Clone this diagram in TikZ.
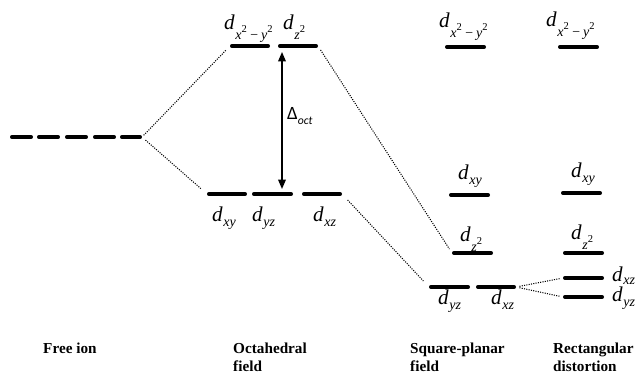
\documentclass[tikz,border=0pt]{standalone}
\usepackage{fontspec}
\setmainfont{Liberation Serif}
\newfontfamily\calibri{Carlito}
\usetikzlibrary{arrows.meta}

% orbital label: italic d with a lowered subscript
\newcommand{\orb}[2][3.5pt]{\textit{d}\kern.03em\raisebox{-#1}{\fontsize{12}{12}\selectfont\itshape #2}}
\newcommand{\sqd}{\raisebox{6pt}{\fontsize{9}{9}\selectfont\upshape 2}}

\begin{document}
\begin{tikzpicture}
  [x=0.03cm,y=-0.03cm,
   level/.style={line width=3.2pt,line cap=round,shorten <=1.6pt,shorten >=1.6pt},
   link/.style={line width=0.9pt,dash pattern=on 0.9pt off 1.1pt},
   split/.style={line width=1.2pt,{Triangle[length=8pt,width=6.5pt]}-{Triangle[length=8pt,width=6.5pt]}},
   lbl/.style={anchor=base west,inner sep=0pt,font=\fontsize{18}{18}\selectfont},
   field/.style={anchor=base west,inner sep=0pt,align=left,font=\fontsize{13}{16}\selectfont\bfseries}]
  \useasboundingbox (0,0) rectangle (636,375);

  % energy levels
  \foreach \n/\xa/\xb/\yy in {f1/10/33/137, f2/37/60/137, f3/65/88/137, f4/93/116/137, f5/120/142/137,
      ox2y2/230/270/46, oz2/278/318/46, oxy/207/247/194, oyz/252/293/194, oxz/302/342/194,
      sx2y2/445/486/47, sxy/449/490/195, sz2/452/493/253, syz/429/470/287, sxz/476/516/287,
      rx2y2/558/599/47, rxy/561/602/193, rz2/563/604/253, rxz/563/604/278, ryz/563/604/297}
  {
    \coordinate (\n-l) at (\xa,\yy);
    \coordinate (\n-r) at (\xb,\yy);
    \draw[level] (\n-l) -- (\n-r);
  }

  % orbital labels
  \node[lbl] (lox2y2) at (224,30)  {\orb[8pt]{x\sqd\,−\,y\sqd}};
  \node[lbl] (loz2)   at (283,30)  {\orb[8pt]{z\sqd}};
  \node[lbl] (loxy)   at (212,222) {\orb{xy}};
  \node[lbl] (loyz)   at (252,222) {\orb{yz}};
  \node[lbl] (loxz)   at (313,222) {\orb{xz}};

  \node[lbl] (lsx2y2) at (439,28)  {\orb[8pt]{x\sqd\,−\,y\sqd}};
  \node[lbl] (lsxy)   at (458,180) {\orb{xy}};
  \node[lbl] (lsz2)   at (460,242) {\orb[8pt]{z\sqd}};
  \node[lbl] (lsyz)   at (438,305) {\orb{yz}};
  \node[lbl] (lsxz)   at (491,305) {\orb{xz}};

  \node[lbl] (lrx2y2) at (546,27)  {\orb[8pt]{x\sqd\,−\,y\sqd}};
  \node[lbl] (lrxy)   at (571,178) {\orb{xy}};
  \node[lbl] (lrz2)   at (571,240) {\orb[8pt]{z\sqd}};
  \node[lbl] (lrxz)   at (612,282) {\orb[2pt]{xz}};
  \node[lbl] (lryz)   at (612,302) {\orb{yz}};

  % correlation lines
  \foreach \src/\dst/\a/\b in {f5-r/ox2y2-l/2/5, f5-r/oxy-l/4/7, oz2-r/sz2-l/4/4,
      oxz-r/syz-l/7/7, sxz-r/rxz-l/3/3, sxz-r/ryz-l/3/3}
    \draw[link,shorten <=\a pt,shorten >=\b pt] (\src) -- (\dst);

  % splitting
  \coordinate (gtop) at (282,52);
  \coordinate (gbot) at (282,189);
  \draw[split] (gtop) -- (gbot);
  \node[anchor=base west,inner sep=0pt,font=\calibri\fontsize{16}{16}\selectfont] (delta) at (287,120)
    {Δ\raisebox{-.45ex}{\fontsize{10}{10}\selectfont\itshape oct}};

  % field names
  \node[field] (free) at (43,354)  {Free ion};
  \node[field] (octa) at (233,372) {Octahedral\\field};
  \node[field] (sqpl) at (410,372) {Square-planar\\field};
  \node[field] (rect) at (553,372) {Rectangular\\distortion};

\end{tikzpicture}
\end{document}
